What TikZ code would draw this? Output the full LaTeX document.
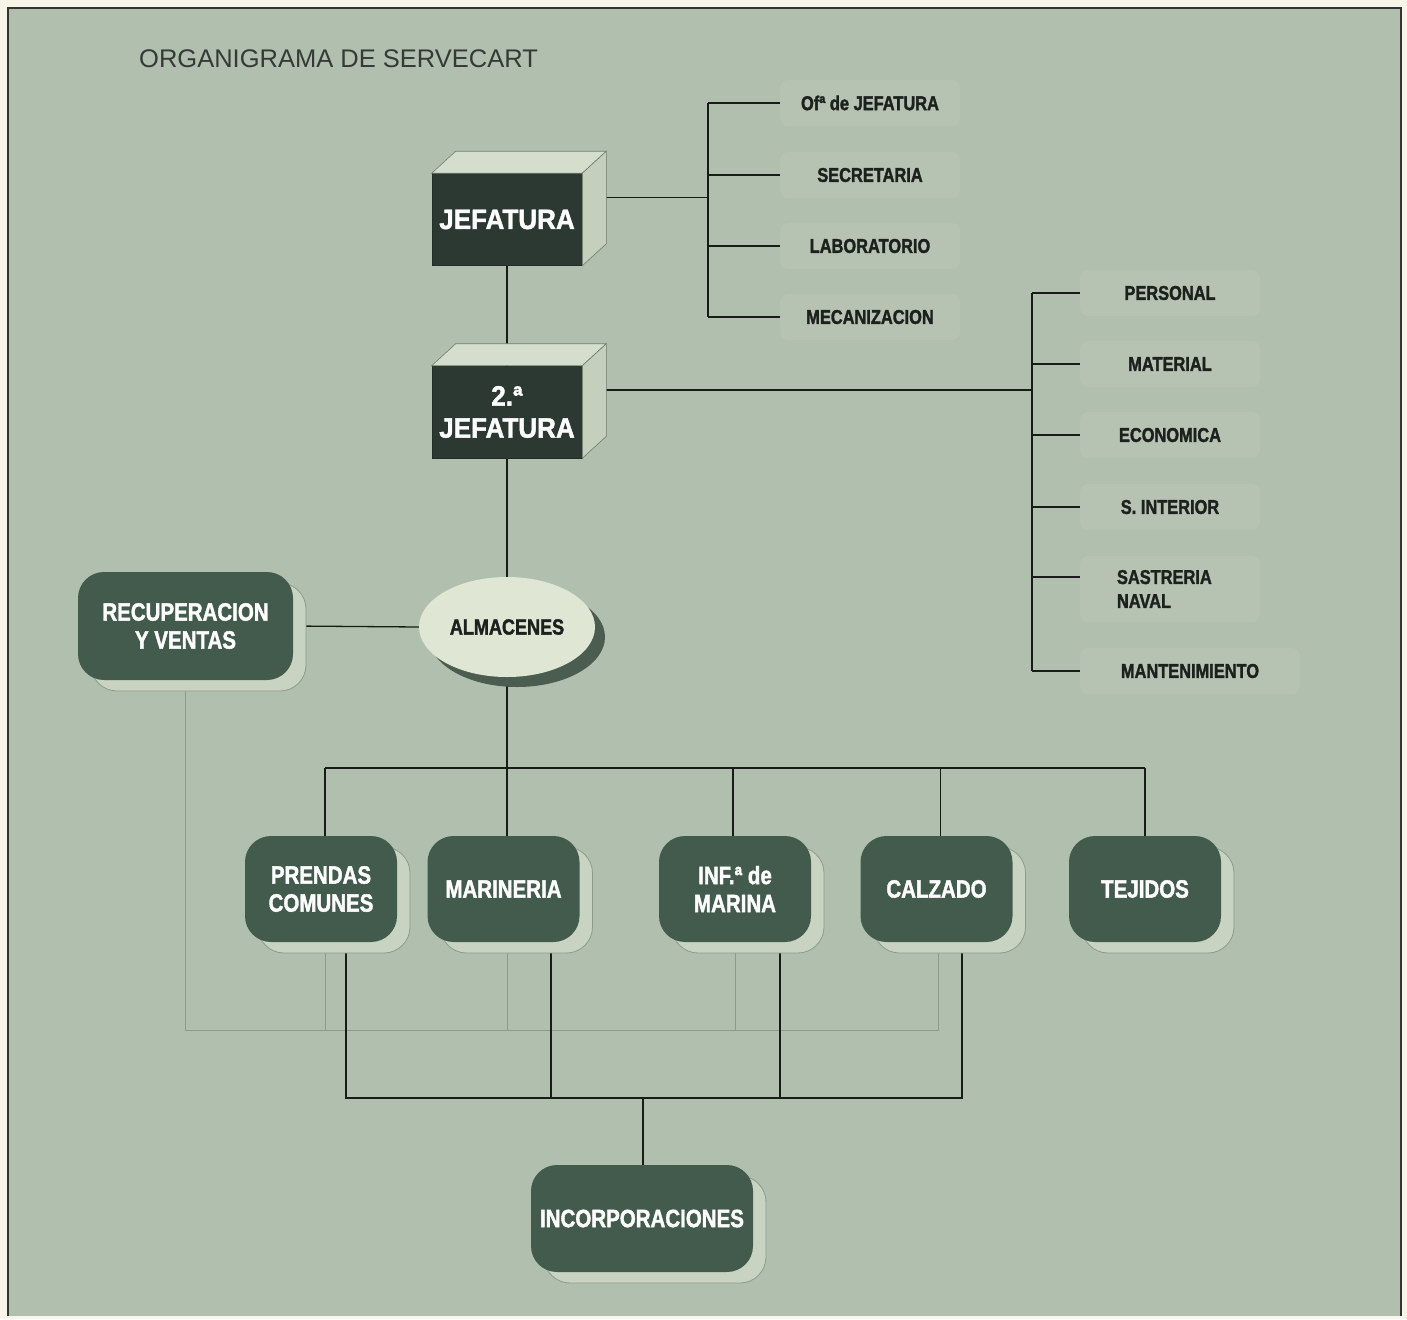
\documentclass[tikz,border=0pt]{standalone}
\usepackage{fontspec}
\setmainfont{Liberation Sans}
\newfontfamily\condfont[FakeStretch=0.82, BoldFeatures={FakeBold=1.6}]{Liberation Sans}
\newfontfamily\jeffont[FakeStretch=0.93, BoldFeatures={FakeBold=1.4}]{Liberation Sans}
\usetikzlibrary{shapes.geometric,shadows,calc}
\pgfdeclarelayer{bglayer}
\pgfdeclarelayer{linelayer}
\pgfsetlayers{bglayer,linelayer,main}
\definecolor{outerc}{HTML}{F7F5EA}
\definecolor{bgc}{HTML}{B1BFAE}
\definecolor{dkgreen}{HTML}{425B4D}
\definecolor{jefc}{HTML}{2C3933}
\definecolor{topface}{HTML}{D5DECD}
\definecolor{sideface}{HTML}{C4D0BC}
\definecolor{shadowc}{HTML}{C8D4C1}
\definecolor{grayline}{HTML}{8C9B8B}
\definecolor{lblbox}{HTML}{B6C3B3}
\definecolor{lbltext}{HTML}{1C211E}
\definecolor{titlec}{HTML}{343B36}
\definecolor{ellfill}{HTML}{DFE6D3}
\definecolor{ellshadow}{HTML}{4B5C51}
\definecolor{linec}{HTML}{1A1A1A}
\tikzset{
  darkbox/.style={rectangle, rounded corners=26pt, fill=dkgreen, text=white,
    font=\condfont\bfseries\fontsize{25}{28}\selectfont, align=center,
    minimum width=152pt, minimum height=106pt, inner sep=0pt,
    general shadow={fill=shadowc, draw=grayline, line width=0.8pt,
      shadow xshift=13pt, shadow yshift=-11pt}},
  jbox/.style={rectangle, fill=jefc, text=white, draw=jefc!80!black, line width=0.6pt,
    font=\jeffont\bfseries\fontsize{28}{32}\selectfont, align=center,
    minimum width=150pt, minimum height=92pt, inner sep=0pt},
  lbl/.style={rectangle, fill=lblbox, rounded corners=8pt, minimum width=180pt,
    minimum height=46pt, inner sep=0pt, text=lbltext,
    font=\condfont\bfseries\fontsize{20}{25}\selectfont},
  conn/.style={draw=linec, line width=1.3pt},
  thinconn/.style={draw=grayline, line width=1pt},
  topf/.style={fill=topface, draw=grayline!80!black, line width=0.6pt},
  sidef/.style={fill=sideface, draw=grayline!80!black, line width=0.6pt}
}
\begin{document}
\begin{tikzpicture}[x=1pt,y=-1pt]
\useasboundingbox (0,0) rectangle (1407,1319);
\begin{pgfonlayer}{bglayer}
  \fill[outerc] (0,0) rectangle (1407,1319);
  \fill[bgc] (8,8) rectangle (1401,1316);
  \draw[line width=1.6pt, color=black!80] (8,1316) -- (8,8) -- (1401,8) -- (1401,1316);
\end{pgfonlayer}

% title
\node[anchor=west, inner sep=0pt, text=titlec, font=\fontsize{25.5}{30}\selectfont] (title) at (139,59) {ORGANIGRAMA DE SERVECART};

% jefatura boxes
\node[jbox] (jef) at (507,219.5) {JEFATURA};
\node[jbox] (jef2) at (507,412) {2.ª\\JEFATURA};
\foreach \b in {jef,jef2}{
  \path[topf] (\b.north west) -- ++(24,-22) -- ($(\b.north east)+(24,-22)$) -- (\b.north east) -- cycle;
  \path[sidef] (\b.north east) -- ++(24,-22) -- ($(\b.south east)+(24,-22)$) -- (\b.south east) -- cycle;
}
\coordinate (jefR) at ($(jef.east)+(24,-22)$);
\coordinate (jef2R) at ($(jef2.east)+(24,-22)$);

% almacenes
\node[ellipse, minimum width=176pt, minimum height=100pt, inner sep=0pt, fill=ellfill,
  text=lbltext, font=\condfont\bfseries\fontsize{22}{26}\selectfont,
  drop shadow={shadow xshift=10pt, shadow yshift=-10pt, fill=ellshadow, opacity=1}]
  (alm) at (507,627) {ALMACENES};

% dark rounded boxes
\node[darkbox, minimum width=215pt, minimum height=108pt] (recup) at (185.5,626) {RECUPERACION\\Y VENTAS};
\node[darkbox] (prendas) at (321,889) {PRENDAS\\COMUNES};
\node[darkbox] (marin) at (503.5,889) {MARINERIA};
\node[darkbox] (inf) at (735,889) {INF.ª de\\MARINA};
\node[darkbox] (calz) at (936.5,889) {CALZADO};
\node[darkbox] (tej) at (1145,889) {TEJIDOS};
\node[darkbox, minimum width=222pt, minimum height=107pt] (incorp) at (642,1218.5) {INCORPORACIONES};

% labels top right
\node[lbl] (of) at (870,103) {Ofª de JEFATURA};
\node[lbl] (sec) at (870,175) {SECRETARIA};
\node[lbl] (lab) at (870,246) {LABORATORIO};
\node[lbl] (mec) at (870,317) {MECANIZACION};

% labels right
\node[lbl] (per) at (1170,293) {PERSONAL};
\node[lbl] (mat) at (1170,364) {MATERIAL};
\node[lbl] (eco) at (1170,435) {ECONOMICA};
\node[lbl] (sint) at (1170,507) {S. INTERIOR};
\node[lbl, text width=106pt, align=left, minimum height=66pt] (sas) at (1170,589) {SASTRERIA\\[-1pt]NAVAL};
\node[lbl, minimum width=220pt] (man) at (1190,671) {MANTENIMIENTO};

\begin{pgfonlayer}{linelayer}
  % vertical spine
  \draw[conn] (jef.south) -- (jef2.north);
  \draw[conn] (jef2.south) -- (alm.north);
  % bracket 1
  \coordinate (b1) at (708,197.5);
  \draw[conn] (jefR) -- (b1);
  \draw[conn] (b1 |- of.west) -- (b1 |- mec.west);
  \foreach \n in {of,sec,lab,mec} \draw[conn] (b1 |- \n.west) -- (\n.west);
  % bracket 2
  \coordinate (b2) at (1032,390);
  \draw[conn] (jef2R) -- (b2);
  \draw[conn] (b2 |- per.west) -- (b2 |- man.west);
  \foreach \n in {per,mat,eco,sint,man} \draw[conn] (b2 |- \n.west) -- (\n.west);
  \coordinate (sasw) at ([yshift=12pt]sas.west);
  \draw[conn] (b2 |- sasw) -- (sasw);
  % recuperacion - almacenes
  \draw[conn] (recup.east) -- (alm.west);
  % bus to warehouses
  \coordinate (bus) at (507,768);
  \draw[conn] (alm.south) -- (alm.south |- marin.north);
  \draw[conn] ([xshift=4pt]prendas.north |- bus) -- (tej.north |- bus);
  \draw[conn] ([xshift=4pt]prendas.north |- bus) -- ([xshift=4pt]prendas.north);
  \draw[conn] ([xshift=-2pt]inf.north |- bus) -- ([xshift=-2pt]inf.north);
  \draw[conn] ([xshift=4pt]calz.north |- bus) -- ([xshift=4pt]calz.north);
  \draw[conn] (tej.north |- bus) -- (tej.north);
  % gray return lines
  \coordinate (gbus) at (938,1030);
  \draw[thinconn] (recup.south) |- (gbus) -- ([xshift=1.5pt]calz.south);
  \draw[thinconn] ([xshift=4pt]prendas.south) -- ([xshift=4pt]prendas.south |- gbus);
  \draw[thinconn] ([xshift=3.5pt]marin.south) -- ([xshift=3.5pt]marin.south |- gbus);
  \draw[thinconn] (inf.south) -- (inf.south |- gbus);
  % black lines to incorporaciones
  \coordinate (ibus) at (643,1098);
  \draw[conn] ([xshift=25pt]prendas.south) |- ([xshift=25.5pt]calz.south |- ibus) -- ([xshift=25.5pt]calz.south);
  \draw[conn] ([xshift=47.5pt]marin.south) -- ([xshift=47.5pt]marin.south |- ibus);
  \draw[conn] ([xshift=45pt]inf.south) -- ([xshift=45pt]inf.south |- ibus);
  \draw[conn] (ibus) -- (ibus |- incorp.north);
\end{pgfonlayer}
\end{tikzpicture}
\end{document}
